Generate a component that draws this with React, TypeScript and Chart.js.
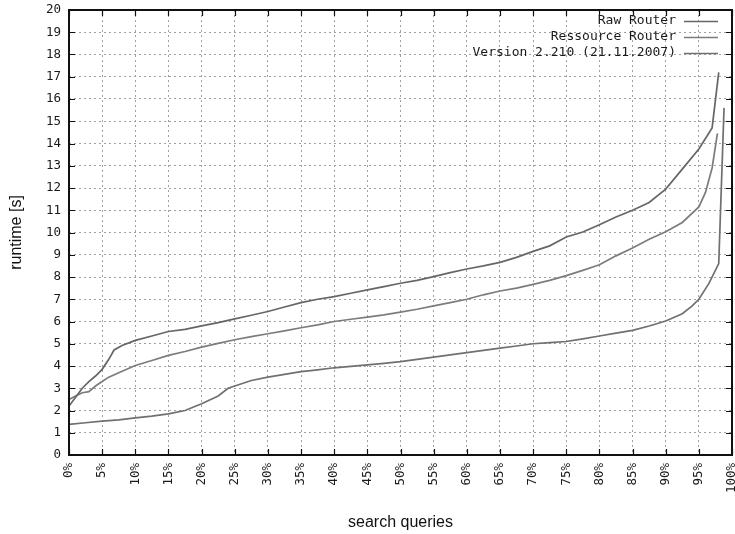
import React, { useEffect, useRef } from 'react';
import { Chart, registerables } from 'chart.js';

Chart.register(...registerables);

const seriesNames = ['Raw Router', 'Ressource Router', 'Version 2.210 (21.11.2007)'];
const seriesColors = ['#666666', '#7c7c7c', '#707070'];

const rawX = [0, 1, 2, 3, 4, 5, 6, 6.8, 8, 10, 12.5, 15, 17.5, 20, 22.5, 25, 27.5, 30, 32.5, 35, 37.5, 40, 42.5, 45, 47.5, 50, 52.5, 55, 57.5, 60, 62.5, 65, 67.5, 70, 72.5, 75, 77.5, 80, 82.5, 85, 87.5, 90, 92.5, 95, 97, 98];
const rawY = [2.2, 2.6, 3.0, 3.3, 3.55, 3.85, 4.3, 4.72, 4.92, 5.15, 5.35, 5.55, 5.65, 5.8, 5.95, 6.12, 6.28, 6.45, 6.65, 6.85, 7.0, 7.12, 7.27, 7.42, 7.57, 7.72, 7.85, 8.02, 8.2, 8.36, 8.5, 8.66, 8.88, 9.15, 9.4, 9.8, 10.02, 10.35, 10.7, 11.0, 11.35, 11.95, 12.85, 13.75, 14.7, 17.2];

const resX = [0, 1, 2, 3, 4, 5, 6, 7.5, 10, 12.5, 15, 17.5, 20, 22.5, 25, 27.5, 30, 32.5, 35, 37.5, 40, 42.5, 45, 47.5, 50, 52.5, 55, 57.5, 60, 62.5, 65, 67.5, 70, 72.5, 75, 77.5, 80, 82.5, 85, 87.5, 90, 92.5, 95, 96, 97, 97.8];
const resY = [2.5, 2.65, 2.8, 2.85, 3.1, 3.3, 3.5, 3.7, 4.02, 4.25, 4.48, 4.65, 4.85, 5.02, 5.18, 5.32, 5.45, 5.58, 5.72, 5.85, 6.0, 6.1, 6.2, 6.3, 6.42, 6.55, 6.7, 6.85, 7.0, 7.2, 7.37, 7.5, 7.67, 7.85, 8.06, 8.3, 8.55, 8.95, 9.3, 9.7, 10.03, 10.45, 11.15, 11.8, 12.9, 14.45];

const verX = [0, 2.5, 5, 7.5, 10, 12.5, 15, 17.5, 20, 22.5, 24, 25, 27.5, 30, 32.5, 35, 37.5, 40, 42.5, 45, 47.5, 50, 52.5, 55, 57.5, 60, 62.5, 65, 67.5, 70, 72.5, 75, 77.5, 80, 82.5, 85, 87.5, 90, 92.5, 94, 95, 96.5, 98, 98.8];
const verY = [1.38, 1.45, 1.52, 1.58, 1.67, 1.75, 1.85, 2.0, 2.3, 2.65, 3.0, 3.1, 3.35, 3.5, 3.62, 3.75, 3.83, 3.92, 3.98, 4.05, 4.12, 4.2, 4.3, 4.4, 4.5, 4.6, 4.7, 4.8, 4.9, 5.0, 5.05, 5.1, 5.22, 5.35, 5.48, 5.6, 5.8, 6.02, 6.35, 6.7, 7.0, 7.7, 8.6, 15.6];

const xTickValues = [0, 5, 10, 15, 20, 25, 30, 35, 40, 45, 50, 55, 60, 65, 70, 75, 80, 85, 90, 95, 100];
const yTickValues = [0, 1, 2, 3, 4, 5, 6, 7, 8, 9, 10, 11, 12, 13, 14, 15, 16, 17, 18, 19, 20];

const xTitle = 'search queries';
const yTitle = 'runtime [s]';

const monoFont = "'DejaVu Sans Mono', 'Liberation Mono', monospace";
const sansFont = "'Liberation Sans', Arial, sans-serif";

const toPoints = (xs: number[], ys: number[]) => xs.map((x, i) => ({ x, y: ys[i] }));

const framePlugin = {
  id: 'gnuFrame',
  afterDraw(chart: any) {
    const { ctx, chartArea } = chart;
    const { left, right, top, bottom } = chartArea;
    const xs = chart.scales.x;
    const ys = chart.scales.y;
    ctx.save();
    ctx.strokeStyle = '#111';
    ctx.lineWidth = 1.2;
    ctx.beginPath();
    const tl = 6;
    for (const v of xTickValues) {
      const px = Math.round(xs.getPixelForValue(v)) + 0.5;
      ctx.moveTo(px, bottom);
      ctx.lineTo(px, bottom - tl);
      ctx.moveTo(px, top);
      ctx.lineTo(px, top + tl);
    }
    for (const v of yTickValues) {
      const py = Math.round(ys.getPixelForValue(v)) + 0.5;
      ctx.moveTo(left, py);
      ctx.lineTo(left + tl, py);
      ctx.moveTo(right, py);
      ctx.lineTo(right - tl, py);
    }
    ctx.stroke();
    ctx.lineWidth = 2;
    ctx.strokeStyle = '#111';
    ctx.strokeRect(left, top, right - left, bottom - top);
    ctx.font = `13px ${monoFont}`;
    ctx.textAlign = 'right';
    ctx.textBaseline = 'middle';
    const textRight = 676;
    const lineStart = 684;
    const lineEnd = 718;
    seriesNames.forEach((name, i) => {
      const yy = 21 + i * 16;
      ctx.fillStyle = '#1a1a1a';
      ctx.fillText(name, textRight, yy);
      ctx.strokeStyle = seriesColors[i];
      ctx.lineWidth = 1.6;
      ctx.beginPath();
      ctx.moveTo(lineStart, yy + 0.5);
      ctx.lineTo(lineEnd, yy + 0.5);
      ctx.stroke();
    });
    ctx.restore();
  },
};

export default function App() {
  const canvasRef = useRef<HTMLCanvasElement | null>(null);

  useEffect(() => {
    document.body.style.margin = '0';
    const canvas = canvasRef.current;
    if (!canvas) return;
    const chart = new Chart(canvas, {
      type: 'line',
      data: {
        datasets: [
          { label: seriesNames[0], data: toPoints(rawX, rawY), borderColor: seriesColors[0], borderWidth: 1.7, pointRadius: 0, tension: 0, fill: false },
          { label: seriesNames[1], data: toPoints(resX, resY), borderColor: seriesColors[1], borderWidth: 1.7, pointRadius: 0, tension: 0, fill: false },
          { label: seriesNames[2], data: toPoints(verX, verY), borderColor: seriesColors[2], borderWidth: 1.7, pointRadius: 0, tension: 0, fill: false },
        ],
      },
      options: {
        responsive: false,
        animation: false,
        devicePixelRatio: 1,
        layout: { padding: { top: 10, right: 3, bottom: 0, left: 0 } },
        plugins: {
          legend: { display: false },
          tooltip: { enabled: false },
        },
        scales: {
          x: {
            type: 'linear',
            min: 0,
            max: 100,
            afterBuildTicks: (scale: any) => {
              scale.ticks = xTickValues.map((v) => ({ value: v }));
            },
            afterFit: (scale: any) => {
              scale.height = 79;
              scale.paddingLeft = 0;
              scale.paddingRight = 0;
            },
            grid: { color: '#a0a0a0', lineWidth: 1, drawTicks: false },
            border: { display: false, dash: [2, 3] },
            ticks: {
              autoSkip: false,
              minRotation: 90,
              maxRotation: 90,
              padding: 8,
              color: '#1a1a1a',
              font: { family: monoFont, size: 12.5 },
              callback: (v: any) => `${v}%`,
            },
            title: {
              display: true,
              text: xTitle,
              color: '#111',
              font: { family: sansFont, size: 16 },
              padding: { top: 0, bottom: 2 },
            },
          },
          y: {
            type: 'linear',
            min: 0,
            max: 20,
            afterBuildTicks: (scale: any) => {
              scale.ticks = yTickValues.map((v) => ({ value: v }));
            },
            afterFit: (scale: any) => {
              scale.width = 69;
              scale.paddingTop = 0;
              scale.paddingBottom = 0;
            },
            grid: { color: '#a0a0a0', lineWidth: 1, drawTicks: false },
            border: { display: false, dash: [2, 3] },
            ticks: {
              padding: 8,
              color: '#1a1a1a',
              font: { family: monoFont, size: 12.5 },
            },
            title: {
              display: true,
              text: yTitle,
              color: '#111',
              font: { family: sansFont, size: 16 },
              padding: { top: 7, bottom: 0 },
            },
          },
        },
      },
      plugins: [framePlugin],
    });
    return () => chart.destroy();
  }, []);

  return (
    <canvas ref={canvasRef} width={735} height={534} style={{ display: 'block', width: 735, height: 534 }} />
  );
}
